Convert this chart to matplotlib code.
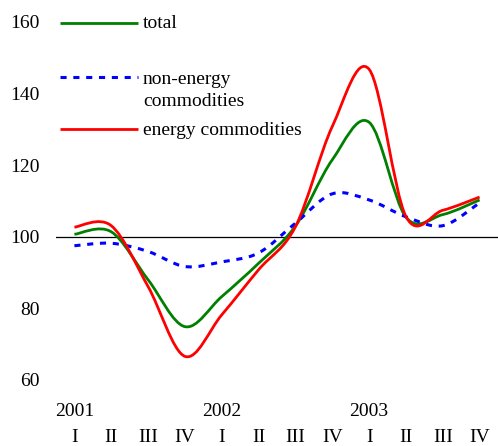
import numpy as np
import matplotlib

matplotlib.use('Agg')
import matplotlib.pyplot as plt
from matplotlib.path import Path
from matplotlib.patches import PathPatch
import matplotlib.transforms as mtransforms

plt.rcParams['font.family'] = ['Liberation Serif', 'DejaVu Serif']

# 분기별 지수 (2001 I ~ 2003 IV)
quarters = ['I', 'II', 'III', 'IV'] * 3
years = ['2001', '2002', '2003']
total = [100.7, 101.4, 88.0, 74.9, 83.3, 92.6, 103.0, 121.5, 132.0, 105.5, 106.2, 110.3]
non_energy = [97.5, 98.2, 95.9, 91.7, 93.0, 95.5, 103.8, 112.0, 110.3, 105.6, 103.1, 109.5]
energy = [102.7, 103.1, 86.1, 66.6, 78.2, 90.8, 102.8, 130.8, 146.8, 105.7, 107.4, 111.1]


def smooth_path(xs, ys):
    """엑셀식 부드러운 선: Catmull-Rom -> 3차 베지어 경로."""
    p = np.column_stack([xs, ys]).astype(float)
    ext = np.vstack([p[0], p, p[-1]])
    verts = [p[0]]
    codes = [Path.MOVETO]
    for i in range(1, len(ext) - 2):
        p0, p1, p2, p3 = ext[i - 1], ext[i], ext[i + 1], ext[i + 2]
        verts += [p1 + (p2 - p0) / 6, p2 - (p3 - p1) / 6, p2]
        codes += [Path.CURVE4] * 3
    return Path(verts, codes)


fig = plt.figure(figsize=(4.98, 4.46), dpi=100)
ax = fig.add_axes([56 / 498, 66 / 446, 442 / 498, 358 / 446])
x = np.arange(len(total))

series = [
    (total, '#008000', 2.0, '-'),
    (non_energy, '#0000FF', 2.2, (0, (2, 2.2))),
    (energy, '#FF0000', 2.0, '-'),
]
for ys, c, lw, ls in series:
    ax.add_patch(PathPatch(smooth_path(x, ys), facecolor='none', edgecolor=c,
                           lw=lw, linestyle=ls, capstyle='butt', zorder=3))

ax.axhline(100, color='black', lw=0.9, zorder=2)
ax.set_xlim(-0.5, 11.5)
ax.set_ylim(60, 160)
for s in ax.spines.values():
    s.set_visible(False)
ax.set_yticks(range(60, 161, 20))
ax.tick_params(axis='y', length=0, pad=12, labelsize=14)
ax.set_xticks(x)
ax.set_xticklabels(quarters)
ax.tick_params(axis='x', length=0, pad=35, labelsize=14)

trans = mtransforms.blended_transform_factory(ax.transData, ax.transAxes)
for i, yr in enumerate(years):
    ax.text(i * 4, -0.087, yr, transform=trans, ha='center', va='center', fontsize=14)

# 범례 (수동 배치)
leg = [
    ('total', '#008000', 2.0, '-', 0.997, 0.997),
    ('non-energy\ncommodities', '#0000FF', 2.2, (0, (2, 2.2)), 0.846, 0.808),
    ('energy commodities', '#FF0000', 2.0, '-', 0.701, 0.698),
]
for lab, c, lw, ls, yl, yt in leg:
    ax.plot([0.009, 0.1855], [yl, yl], transform=ax.transAxes, color=c, lw=lw,
            linestyle=ls, clip_on=False, solid_capstyle='butt')
    ax.text(0.197, yt, lab, transform=ax.transAxes, ha='left', va='center',
            fontsize=14, linespacing=1.4)

fig.savefig('out.png', dpi=100)
